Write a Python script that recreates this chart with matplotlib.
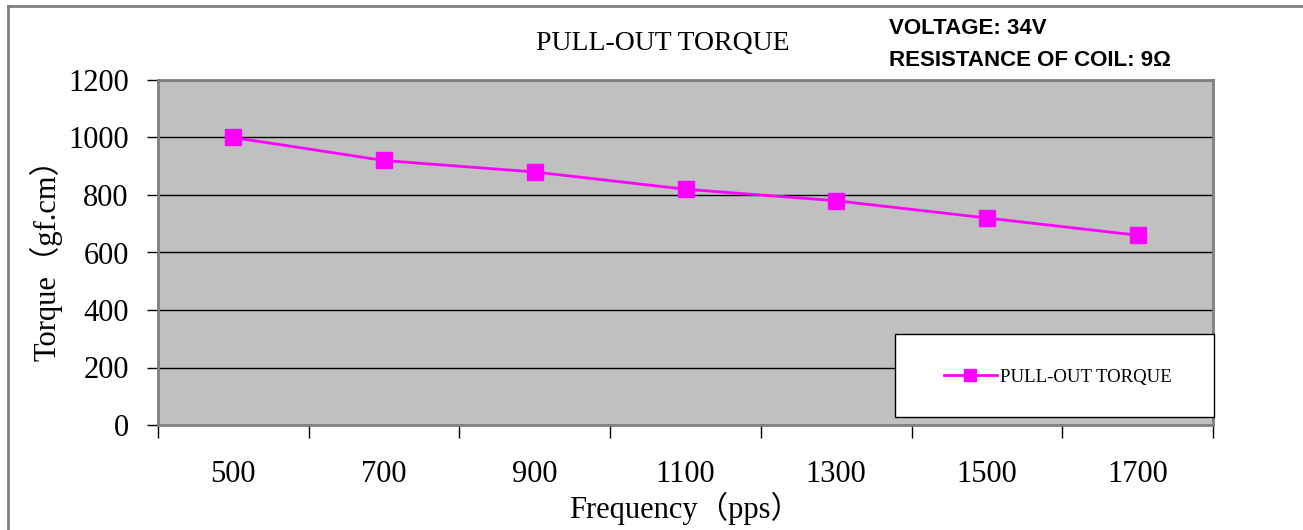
import matplotlib.pyplot as plt
import numpy as np
from matplotlib.lines import Line2D
from matplotlib.patches import Rectangle

plt.rcParams['font.family'] = ['Liberation Serif', 'Noto Sans CJK SC']

freq_labels = ['500', '700', '900', '1100', '1300', '1500', '1700']
torque = [1000, 920, 880, 820, 780, 720, 660]
y_ticks = [0, 200, 400, 600, 800, 1000, 1200]

W, H = 1303, 530
fig = plt.figure(figsize=(W / 100, H / 100), dpi=100)
ax = fig.add_axes([158 / W, 1 - 425 / H, (1213 - 158) / W, (425 - 80) / H])
ax.set_facecolor('#c0c0c0')

x = np.arange(len(freq_labels))
ax.plot(x, torque, color='#ff00ff', lw=2, marker='s', ms=11, mec='#ff00ff',
        zorder=3, label='PULL-OUT TORQUE')

ax.set_xlim(-0.5, len(freq_labels) - 0.5)
ax.set_ylim(0, 1200)
ax.set_yticks(y_ticks)
ax.yaxis.grid(True, color='black', lw=1)
ax.set_axisbelow(True)

# bin-edge ticks, labels centred in bins
ax.set_xticks(np.arange(-0.5, len(freq_labels)))
ax.set_xticklabels([])
ax.set_xticks(x, minor=True)
ax.set_xticklabels(freq_labels, minor=True)
ax.tick_params(axis='x', which='major', length=9, width=1, color='black')
ax.tick_params(axis='x', which='minor', length=0, pad=25, labelsize=22)
ax.tick_params(axis='y', length=8, width=1, color='black', pad=13, labelsize=22)

for s in ax.spines.values():
    s.set_color('#808080')
    s.set_linewidth(2)

ax.set_xlabel('Frequency（pps）', fontsize=22, labelpad=2)
ax.set_ylabel('Torque（gf.cm）', fontsize=22, labelpad=4)

fig.text(663 / W, 1 - 43 / H, 'PULL-OUT TORQUE', fontsize=20,
         ha='center', va='center')
fig.text(889 / W, 1 - 28 / H, 'VOLTAGE: 34V', family='Liberation Sans',
         weight='bold', fontsize=16, ha='left', va='center')
fig.text(889 / W, 1 - 61 / H, 'RESISTANCE OF COIL: 9Ω', family='Liberation Sans',
         weight='bold', fontsize=16, ha='left', va='center')

# legend box drawn by hand, legend content centred inside
ax_w, ax_h = 1213 - 158, 425 - 80
box = Rectangle(((895 - 158) / ax_w, (425 - 417) / ax_h),
                (1214 - 895) / ax_w, (417 - 334) / ax_h,
                transform=ax.transAxes, facecolor='white', edgecolor='black',
                lw=1, zorder=4, clip_on=False)
ax.add_patch(box)
leg = ax.legend(loc='center', bbox_to_anchor=((1058 - 158) / ax_w, (425 - 377) / ax_h),
                frameon=False, fontsize=13.5, markerscale=0.8, handlelength=2.8,
                handletextpad=0.2, borderpad=0)
leg.set_zorder(5)

# outer frame of the picture
fig.add_artist(Line2D([8 / W, 8 / W], [0, 1 - 6 / H], color='#808080', lw=2))
fig.add_artist(Line2D([8 / W, 1], [1 - 6 / H, 1 - 6 / H], color='#808080', lw=2))

fig.savefig('out.png', dpi=100)
